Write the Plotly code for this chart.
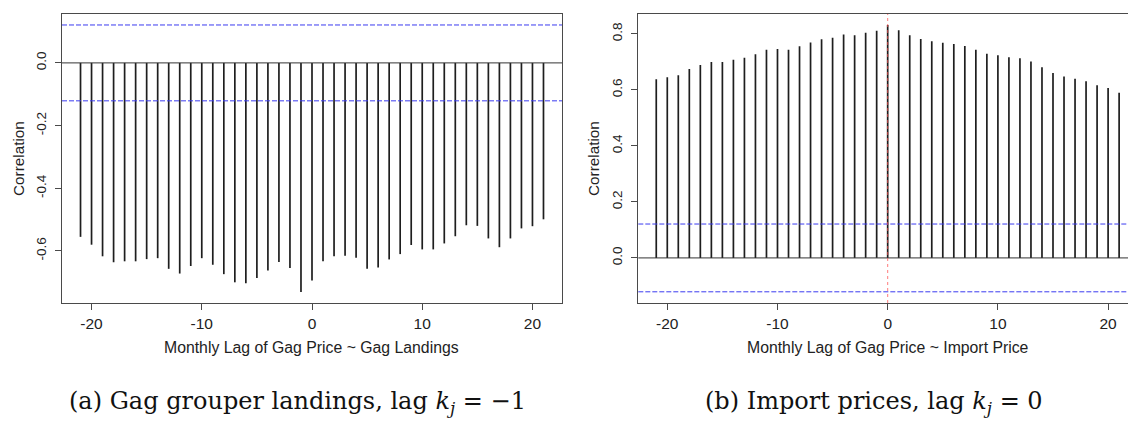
import plotly.graph_objects as go

# ---------------- data ----------------
lags = list(range(-21, 22))

landings_ccf = [-0.555, -0.580, -0.617, -0.636, -0.633, -0.633, -0.626, -0.623,
                -0.657, -0.672, -0.648, -0.623, -0.644, -0.674, -0.700, -0.703,
                -0.686, -0.662, -0.635, -0.654, -0.731, -0.694, -0.633, -0.617,
                -0.615, -0.622, -0.657, -0.653, -0.627, -0.610, -0.581, -0.595,
                -0.595, -0.576, -0.553, -0.518, -0.520, -0.560, -0.588, -0.560,
                -0.528, -0.521, -0.499]

import_ccf = [0.638, 0.645, 0.652, 0.675, 0.689, 0.700, 0.700, 0.708, 0.715,
              0.727, 0.743, 0.746, 0.743, 0.756, 0.769, 0.781, 0.786, 0.798,
              0.795, 0.804, 0.811, 0.832, 0.813, 0.795, 0.782, 0.774, 0.768,
              0.764, 0.757, 0.743, 0.729, 0.724, 0.717, 0.713, 0.701, 0.681,
              0.660, 0.648, 0.640, 0.631, 0.617, 0.607, 0.590]

ci_bound = 0.121

x_ticks = [-20, -10, 0, 10, 20]
x_tick_labels = ["-20", "-10", "0", "10", "20"]
left_y_ticks = [-0.6, -0.4, -0.2, 0.0]
left_y_tick_labels = ["-0.6", "-0.4", "-0.2", "0.0"]
right_y_ticks = [0.0, 0.2, 0.4, 0.6, 0.8]
right_y_tick_labels = ["0.0", "0.2", "0.4", "0.6", "0.8"]

left_xlabel = "Monthly Lag of Gag Price ~ Gag Landings"
right_xlabel = "Monthly Lag of Gag Price ~ Import Price"
ylabel = "Correlation"
left_caption = "(a) Gag grouper landings, lag <i>k<sub>j</sub></i> = \u22121"
right_caption = "(b) Import prices, lag <i>k<sub>j</sub></i> = 0"
best_lag_right = 0

# ---------------- figure ----------------
W, H = 1128, 424
FONT = "Liberation Sans, Arial, sans-serif"
SERIF = "DejaVu Serif, Liberation Serif, serif"
FRAME = "#4a4a4a"
BAR = "#1e1e1e"
TXT = "#222222"


def stems(xs, ys):
    sx, sy = [], []
    for x, y in zip(xs, ys):
        sx += [x, x, None]
        sy += [0, y, None]
    return sx, sy


fig = go.Figure()
lx, ly = stems(lags, landings_ccf)
fig.add_trace(go.Scatter(x=lx, y=ly, mode="lines", xaxis="x", yaxis="y",
                         line=dict(color=BAR, width=1.7), hoverinfo="skip",
                         showlegend=False))
rx, ry = stems(lags, import_ccf)
fig.add_trace(go.Scatter(x=rx, y=ry, mode="lines", xaxis="x2", yaxis="y2",
                         line=dict(color=BAR, width=1.7), hoverinfo="skip",
                         showlegend=False))

ydom = [(H - 303) / H, (H - 14) / H]
x_common = dict(showgrid=False, zeroline=False, showline=True, linecolor=FRAME,
                linewidth=1, ticks="outside", ticklen=6, tickcolor=FRAME,
                tickfont=dict(family=FONT, size=15.5, color=TXT))
y_common = dict(showgrid=False, zeroline=False, showline=True, linecolor=FRAME,
                linewidth=1, ticks="outside", ticklen=6, tickcolor=FRAME,
                tickangle=-90, ticklabelstandoff=4,
                tickfont=dict(family=FONT, size=13.5, color=TXT))

fig.update_layout(
    width=W, height=H, margin=dict(l=0, r=0, t=0, b=0),
    plot_bgcolor="white", paper_bgcolor="white", showlegend=False,
    xaxis=dict(domain=[62 / W, 562 / W], range=[-22.68, 22.68], mirror=True,
               tickvals=x_ticks, ticktext=x_tick_labels, anchor="y", **x_common),
    yaxis=dict(domain=ydom, range=[-0.766, 0.156], mirror=True,
               tickvals=left_y_ticks, ticktext=left_y_tick_labels, anchor="x",
               **y_common),
    xaxis2=dict(domain=[638.3 / W, 1.0], range=[-22.63, (1128 - 887.7) / 11.02],
                mirror=True, tickvals=x_ticks, ticktext=x_tick_labels, anchor="y2",
                **x_common),
    yaxis2=dict(domain=ydom, range=[-0.161, 0.871], mirror=False,
                tickvals=right_y_ticks, ticktext=right_y_tick_labels, anchor="x2",
                **y_common),
)

shapes = []
for xa, ya in [("x", "y"), ("x2", "y2")]:
    shapes.append(dict(type="line", xref=f"{xa} domain", yref=ya, x0=0, x1=1,
                       y0=0, y1=0, line=dict(color="#333333", width=1)))
    for b in (ci_bound, -ci_bound):
        shapes.append(dict(type="line", xref=f"{xa} domain", yref=ya, x0=0, x1=1,
                           y0=b, y1=b,
                           line=dict(color="#3b3bf0", width=1, dash="5px,2px")))
shapes.append(dict(type="line", xref="x2", yref="y2 domain", x0=best_lag_right,
                   x1=best_lag_right, y0=0, y1=1,
                   line=dict(color="rgba(255,80,80,0.75)", width=1, dash="dot")))
fig.update_layout(shapes=shapes)

ann = []
for xc, txt in [(311, left_xlabel), (888, right_xlabel)]:
    ann.append(dict(x=xc / W, y=(H - 347) / H, xref="paper", yref="paper",
                    text=txt, showarrow=False, xanchor="center", yanchor="middle",
                    font=dict(family=FONT, size=15.8, color=TXT)))
for xc in (18, 593):
    ann.append(dict(x=xc / W, y=(H - 159) / H, xref="paper", yref="paper",
                    text=ylabel, showarrow=False, textangle=-90, xanchor="center",
                    yanchor="middle", font=dict(family=FONT, size=15.3, color=TXT)))
for xc, txt in [(297, left_caption), (874, right_caption)]:
    ann.append(dict(x=xc / W, y=(H - 402) / H, xref="paper", yref="paper",
                    text=txt, showarrow=False, xanchor="center", yanchor="middle",
                    font=dict(family=SERIF, size=24, color="#111111")))
fig.update_layout(annotations=ann)

fig.write_html("out.html")
